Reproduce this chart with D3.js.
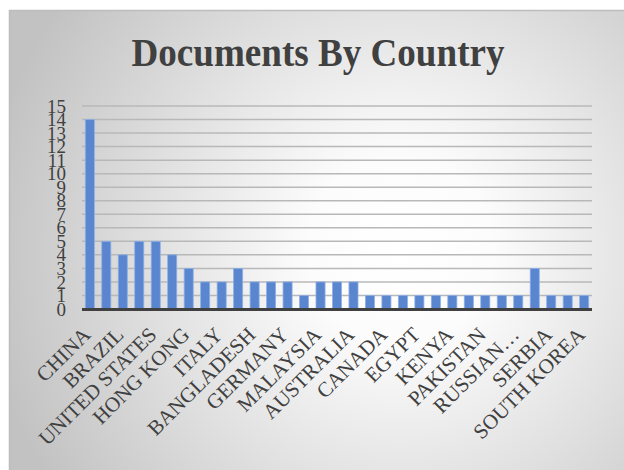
<!DOCTYPE html>
<html>
<head>
<meta charset="utf-8">
<script src="https://cdn.jsdelivr.net/npm/d3@7"></script>
<style>
  html, body { margin: 0; padding: 0; background: #ffffff; }
  svg { display: block; }
</style>
</head>
<body>
<svg id="chart" width="624" height="470"></svg>
<script>
// ---- data ----
const countries = [
  "CHINA", "INDIA", "BRAZIL", "UNITED KINGDOM", "UNITED STATES", "INDONESIA",
  "HONG KONG", "SPAIN", "ITALY", "SOUTH AFRICA", "BANGLADESH", "FRANCE",
  "GERMANY", "IRAN", "MALAYSIA", "NIGERIA", "AUSTRALIA", "AUSTRIA",
  "CANADA", "DENMARK", "EGYPT", "JAPAN", "KENYA", "NETHERLANDS",
  "PAKISTAN", "PORTUGAL", "RUSSIAN FEDERATION", "SAUDI ARABIA", "SERBIA", "SINGAPORE",
  "SOUTH KOREA"
];
const documents = [
  14, 5, 4, 5, 5, 4,
  3, 2, 2, 3, 2, 2,
  2, 1, 2, 2, 2, 1,
  1, 1, 1, 1, 1, 1,
  1, 1, 1, 3, 1, 1,
  1
];
const yTicks = [0,1,2,3,4,5,6,7,8,9,10,11,12,13,14,15];
const titleText = "Documents By Country";

// ---- drawing ----
const svg = d3.select("#chart");
const W = 624, H = 470;

const defs = svg.append("defs");
const rg = defs.append("radialGradient")
  .attr("id", "bg").attr("gradientUnits", "userSpaceOnUse")
  .attr("cx", 400).attr("cy", 250).attr("r", 420);
rg.append("stop").attr("offset", "0%").attr("stop-color", "#ffffff");
rg.append("stop").attr("offset", "22%").attr("stop-color", "#fcfcfc");
rg.append("stop").attr("offset", "100%").attr("stop-color", "#c2c2c2");

svg.append("rect").attr("x", 9.5).attr("y", 10.5).attr("width", W).attr("height", H)
  .attr("fill", "url(#bg)").attr("stroke", "#bdbdbd").attr("stroke-width", 1.5);

const x = d3.scaleBand().domain(countries).range([82, 592])
  .paddingInner(0.45).paddingOuter(0.2);
const y = d3.scaleLinear().domain([0, 15]).range([309, 106]);

// title
svg.append("text")
  .attr("x", 318).attr("y", 66)
  .attr("text-anchor", "middle")
  .attr("font-family", "Liberation Serif, Times New Roman, serif")
  .attr("font-weight", "bold")
  .attr("font-size", 41)
  .attr("textLength", 373)
  .attr("lengthAdjust", "spacingAndGlyphs")
  .attr("fill", "#404040")
  .text(titleText);

// gridlines
const grid = svg.append("g");
grid.selectAll("line").data(yTicks.filter(d => d > 0)).join("line")
  .attr("x1", 82).attr("x2", 592)
  .attr("y1", d => y(d)).attr("y2", d => y(d))
  .attr("stroke", "#b8b8b8").attr("stroke-width", 1.5);

// bars
svg.append("g").selectAll("rect").data(countries).join("rect")
  .attr("x", d => x(d))
  .attr("width", x.bandwidth())
  .attr("y", (d, i) => y(documents[i]))
  .attr("height", (d, i) => y(0) - y(documents[i]))
  .attr("fill", "#5a86cf")
  .attr("stroke", "#8eb0e6").attr("stroke-width", 0.8);

// baseline
svg.append("line").attr("x1", 82).attr("x2", 592)
  .attr("y1", y(0)+0.5).attr("y2", y(0)+0.5)
  .attr("stroke", "#404040").attr("stroke-width", 3);

// y axis
const yAxis = d3.axisLeft(y).tickValues(yTicks).tickSize(0).tickPadding(0);
const yg = svg.append("g").attr("transform", "translate(66,0)").call(yAxis);
yg.select(".domain").remove();
yg.selectAll("text")
  .attr("font-family", "Liberation Serif, Times New Roman, serif")
  .attr("font-size", 19)
  .attr("fill", "#404040");

// x axis labels (every other category shown)
const xAxis = d3.axisBottom(x).tickSize(0).tickPadding(0)
  .tickFormat((d, i) => i % 2 === 0 ? d.replace("RUSSIAN FEDERATION", "RUSSIAN…") : "");
const xg = svg.append("g").attr("transform", "translate(0,309)").call(xAxis);
xg.select(".domain").remove();
xg.selectAll("text")
  .attr("font-family", "Liberation Serif, Times New Roman, serif")
  .attr("font-size", 21)
  .attr("fill", "#404040")
  .attr("text-anchor", "end")
  .attr("dy", 0)
  .attr("y", 0)
  .attr("transform", "translate(2,27) rotate(-45)");
</script>
</body>
</html>
